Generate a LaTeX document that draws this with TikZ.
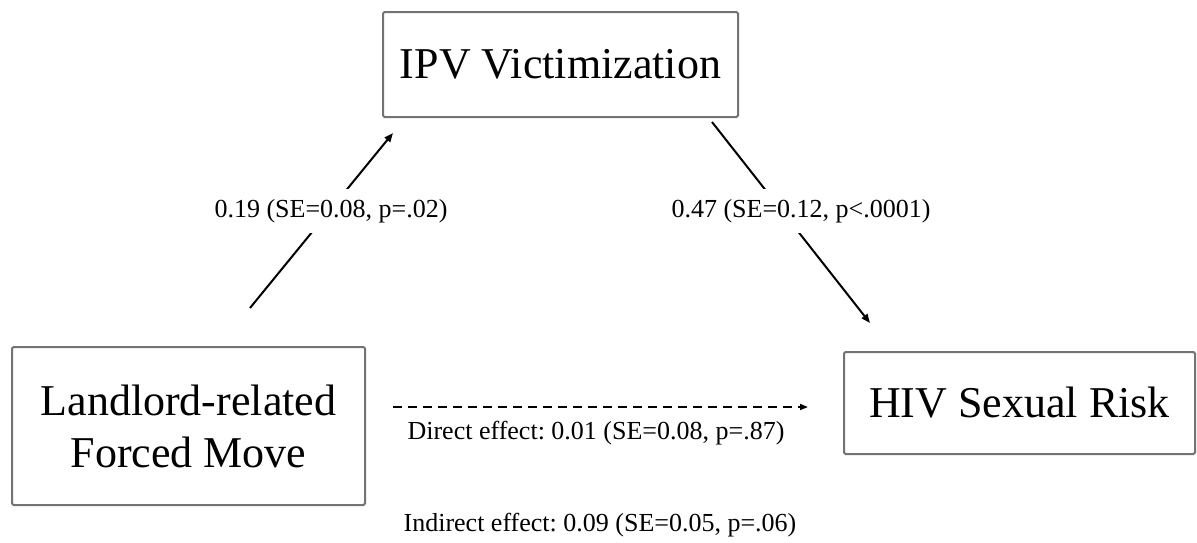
\documentclass[tikz,border=0pt]{standalone}
\usepackage{fontspec}
\setmainfont{Liberation Serif}
\usetikzlibrary{arrows.meta}
\frenchspacing
\begin{document}
\begin{tikzpicture}[x=1pt,y=-1pt,
  varbox/.style={draw=black!55,line width=2pt,rounded corners=1.5pt,inner sep=0pt,align=center,font=\fontsize{44}{52}\selectfont},
  conn/.style={line width=2pt,-{Triangle[length=9pt,width=7pt]}},
  coef/.style={font=\fontsize{26}{30}\selectfont,inner sep=0pt},
  gaplab/.style={coef,fill=white,inner xsep=2pt,inner ysep=10pt}]
\useasboundingbox (0,0) rectangle (1197,542);
\node[varbox,minimum width=355pt,minimum height=105pt] (ipv) at (560.5,64.5) {IPV Victimization};
\node[varbox,minimum width=353pt,minimum height=158pt] (lfm) at (188.5,426) {Landlord-related\\Forced Move};
\node[varbox,minimum width=351pt,minimum height=102pt] (hiv) at (1019.5,403) {HIV Sexual Risk};
\coordinate (a1) at (250,308);
\coordinate (a2) at (393,133);
\coordinate (b1) at (712,122);
\coordinate (b2) at (870,323);
\coordinate (c1) at (393,407);
\coordinate (c2) at (808,407);
\draw[conn] (a1) -- (a2);
\draw[conn] (b1) -- (b2);
\draw[line width=1.8pt,dash pattern=on 9pt off 6pt,-{Triangle[length=8pt,width=6pt]}] (c1) -- (c2);
\node[gaplab] (la) at (331,211) {0.19 (SE=0.08, p=.02)};
\node[gaplab] (lb) at (801,211) {0.47 (SE=0.12, p<.0001)};
\node[coef] (ld) at (596,433) {Direct effect: 0.01 (SE=0.08, p=.87)};
\node[coef] (li) at (600,525) {Indirect effect: 0.09 (SE=0.05, p=.06)};
\end{tikzpicture}
\end{document}
